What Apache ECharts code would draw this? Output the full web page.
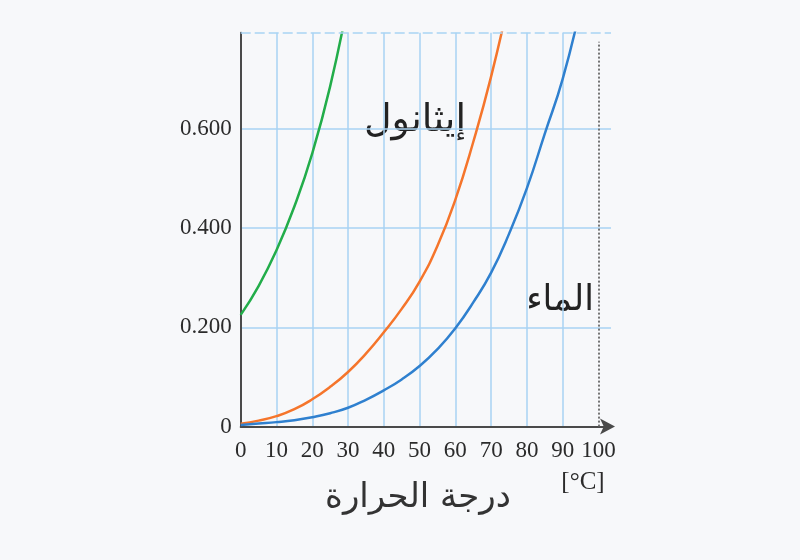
<!DOCTYPE html>
<html lang="ar">
  <head>
    <meta charset="UTF-8" />
    <title>ضغط البخار</title>
    <script src="https://cdn.jsdelivr.net/npm/echarts@6.0.0/dist/echarts.min.js"></script>
    <style>
      html,
      body {
        margin: 0;
        padding: 0;
        background: #f7f8fa;
      }
      #main {
        width: 800px;
        height: 560px;
      }
    </style>
  </head>
  <body>
    <div id="main"></div>
    <script>
      // values (temperature in °C, pressure on the y scale)
      const etherT = [0, 5, 10, 15, 20, 25, 30];
      const etherP = [0.225, 0.283, 0.355, 0.443, 0.55, 0.685, 0.855];

      const ethanolT = [0, 5, 10, 15, 20, 25, 30, 35, 40, 45, 50, 55, 60, 65, 70, 75];
      const ethanolP = [0.006, 0.012, 0.021, 0.035, 0.055, 0.08, 0.11, 0.147, 0.19, 0.237, 0.292, 0.364, 0.457, 0.573, 0.705, 0.86];

      const waterT = [0, 5, 10, 15, 20, 25, 30, 35, 40, 45, 50, 55, 60, 65, 70, 75, 80, 85, 90, 95];
      const waterP = [0.003, 0.006, 0.009, 0.013, 0.019, 0.027, 0.038, 0.054, 0.073, 0.095, 0.122, 0.156, 0.198, 0.25, 0.31, 0.388, 0.48, 0.59, 0.7, 0.845];

      const xTicks = [0, 10, 20, 30, 40, 50, 60, 70, 80, 90, 100];
      const yTicks = [0, 0.2, 0.4, 0.6];

      const xMax = 103.5;
      const yMax = 0.793;

      const seriesNames = ["ثنائي إيثيل الإيثر", "إيثانول", "الماء"];
      const xTitle = "درجة الحرارة";
      const xUnit = "[°C]";

      function pairs(xs, ys) {
        return xs.map((x, i) => [x, ys[i]]);
      }

      const gridBlue = "#a9d3f3";
      const axisGray = "#4a4a4a";
      const tickFont = '"Liberation Serif", "Times New Roman", serif';
      const arabicFont = '"DejaVu Sans", sans-serif';

      const chart = echarts.init(document.getElementById("main"));

      const option = {
        backgroundColor: "#f7f8fa",
        animation: false,
        grid: { left: 240.7, right: 189, top: 32.7, bottom: 133.4 },
        xAxis: {
          type: "value",
          min: 0,
          max: xMax,
          interval: 10,
          axisLine: {
            lineStyle: { color: axisGray, width: 2 },
            symbol: ["none", "arrow"],
            symbolSize: [12, 15],
            symbolOffset: [0, 4],
          },
          axisTick: { show: false },
          axisLabel: {
            margin: 13,
            fontFamily: tickFont,
            fontSize: 23,
            color: "#2b2b2b",
            formatter: (v) => (xTicks.indexOf(v) >= 0 ? String(v) : ""),
          },
          splitLine: {
            show: true,
            showMaxLine: false,
            lineStyle: {
              width: 1.5,
              // the line at 100 is drawn dotted below
              color: xTicks.map((v) => (v === 100 ? "rgba(0,0,0,0)" : gridBlue)),
            },
          },
        },
        yAxis: {
          type: "value",
          min: 0,
          max: yMax,
          interval: 0.2,
          axisLine: { show: true, lineStyle: { color: axisGray, width: 2 } },
          axisTick: { show: false },
          axisLabel: {
            margin: 9,
            fontFamily: tickFont,
            fontSize: 23,
            color: "#2b2b2b",
            formatter: (v) => {
              const hit = yTicks.find((t) => Math.abs(t - v) < 1e-6);
              if (hit === undefined) return "";
              return hit === 0 ? "0" : hit.toFixed(3);
            },
          },
          splitLine: {
            show: true,
            showMaxLine: false,
            lineStyle: { color: gridBlue, width: 1.5 },
          },
        },
        series: [
          {
            name: seriesNames[0],
            type: "line",
            data: pairs(etherT, etherP),
            smooth: 0.5,
            showSymbol: false,
            lineStyle: { color: "#22ad4a", width: 2.5 },
            z: 3,
          },
          {
            name: seriesNames[1],
            type: "line",
            data: pairs(ethanolT, ethanolP),
            smooth: 0.5,
            showSymbol: false,
            lineStyle: { color: "#f5752b", width: 2.5 },
            z: 3,
          },
          {
            name: seriesNames[2],
            type: "line",
            data: pairs(waterT, waterP),
            smooth: 0.5,
            showSymbol: false,
            lineStyle: { color: "#2f80cf", width: 2.5 },
            z: 3,
            markLine: {
              silent: true,
              symbol: "none",
              label: { show: false },
              data: [
                [
                  { coord: [0, yMax], lineStyle: { color: gridBlue, width: 1.5, type: [10, 4] } },
                  { coord: [xMax, yMax] },
                ],
                [
                  { coord: [100, 0], lineStyle: { color: "#666", width: 1.8, type: [2, 2] } },
                  { coord: [100, 0.775] },
                ],
              ],
            },
          },
        ],
        graphic: [
          {
            type: "text",
            x: 415,
            y: 121,
            style: { text: seriesNames[1], font: "38px " + arabicFont, fill: "#222", align: "center", verticalAlign: "middle" },
          },
          {
            type: "text",
            x: 560,
            y: 301,
            style: { text: seriesNames[2], font: "35px " + arabicFont, fill: "#222", align: "center", verticalAlign: "middle" },
          },
          {
            type: "text",
            x: 583,
            y: 482,
            style: { text: xUnit, font: "25px " + tickFont, fill: "#2b2b2b", align: "center", verticalAlign: "middle" },
          },
          {
            type: "text",
            x: 418,
            y: 498,
            style: { text: xTitle, font: "34px " + arabicFont, fill: "#333", align: "center", verticalAlign: "middle" },
          },
        ],
      };

      chart.setOption(option);
    </script>
  </body>
</html>
